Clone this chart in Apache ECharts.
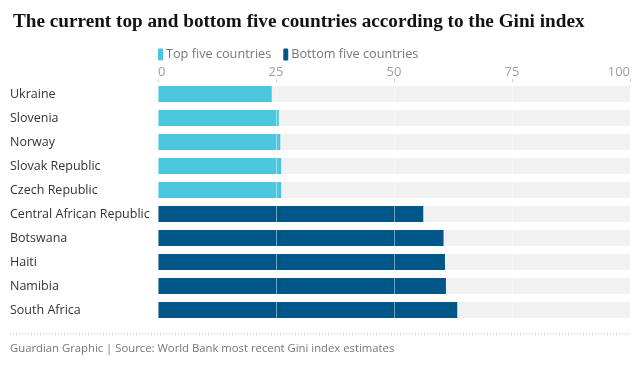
<!DOCTYPE html>
<html><head><meta charset="utf-8">
<script src="https://cdn.jsdelivr.net/npm/echarts@6/dist/echarts.min.js"></script>
<style>html,body{margin:0;padding:0;background:#fff}#c{width:644px;height:368px}</style>
</head><body><div id="c"></div>
<script>
const countries = ['Ukraine','Slovenia','Norway','Slovak Republic','Czech Republic','Central African Republic','Botswana','Haiti','Namibia','South Africa'];
const topFive = [24.1, 25.6, 25.9, 26.1, 26.1, '-', '-', '-', '-', '-'];
const bottomFive = ['-', '-', '-', '-', '-', 56.2, 60.5, 60.8, 61.0, 63.4];
const xTicks = [0, 25, 50, 75, 100];

const chart = echarts.init(document.getElementById('c'));
chart.setOption({
  animation: false,
  title: {
    text: 'The current top and bottom five countries according to the Gini index',
    left: 8, top: 8,
    textStyle: {fontFamily: 'Liberation Serif', fontWeight: 'bold', fontSize: 19.2, color: '#121212'}
  },
  legend: {
    left: 153, top: 43,
    itemWidth: 5, itemHeight: 12, itemGap: 12,
    icon: 'roundRect',
    textStyle: {fontFamily: 'Open Sans', fontSize: 12.7, color: '#767676', padding: [0,0,0,-2]}
  },
  grid: {left: 158, right: 14, top: 82, bottom: 46},
  xAxis: {
    type: 'value', position: 'top', min: xTicks[0], max: xTicks[xTicks.length-1], interval: 25,
    z: 5,
    axisLine: {show: false},
    axisTick: {show: true, length: 3, lineStyle: {color: '#cccccc'}},
    splitLine: {show: true, lineStyle: {color: 'rgba(255,255,255,0.45)', width: 1}},
    axisLabel: {fontFamily: 'Open Sans', fontSize: 13, color: '#a0a0a0', margin: 3,
      showMinLabel: true, showMaxLabel: true, alignMinLabel: 'left', alignMaxLabel: 'right'}
  },
  yAxis: {
    type: 'category', data: countries, inverse: true,
    axisLine: {show: false}, axisTick: {show: false},
    axisLabel: {fontFamily: 'Open Sans', fontSize: 12.5, color: '#333333', align: 'left', margin: 148,
      padding: [3, 0, 0, 0]}
  },
  series: [
    {name: 'Top five countries', type: 'bar', data: topFive, barWidth: 16,
     itemStyle: {color: '#4bc6df'},
     showBackground: true, backgroundStyle: {color: '#f1f1f1'}},
    {name: 'Bottom five countries', type: 'bar', data: bottomFive, barWidth: 16, barGap: '-100%',
     itemStyle: {color: '#005689'}}
  ],
  graphic: [
    {type: 'line', shape: {x1: 10, y1: 334, x2: 630, y2: 334},
     style: {stroke: '#bbbbbb', lineWidth: 1, lineDash: [1, 2]}},
    {type: 'text', left: 10, top: 343,
     style: {text: 'Guardian Graphic | Source: World Bank most recent Gini index estimates',
       fontFamily: 'Open Sans', fontSize: 11.3, fill: '#767676'}}
  ]
});
</script></body></html>
